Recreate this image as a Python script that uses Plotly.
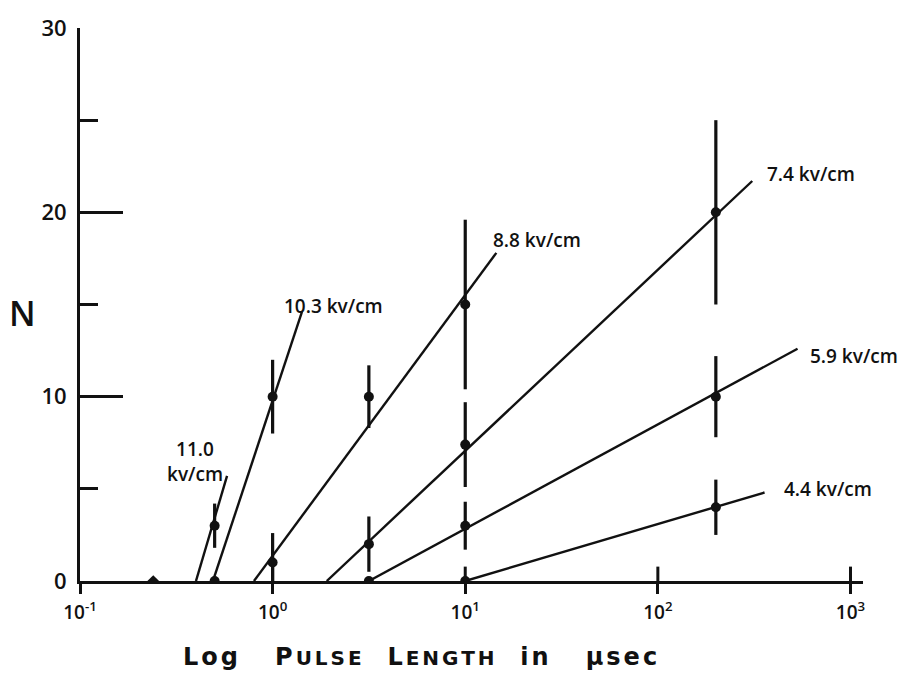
import math
import plotly.graph_objects as go

# Breakdown counts N versus pulse length (microseconds), one set per field strength
x_110 = [0.5]
n_110 = [3]
e_110 = [1.2]

x_103 = [0.5, 1.0]
n_103 = [0, 10]
e_103 = [0, 2.0]

x_88 = [1.0, 3.16, 10]
n_88 = [1, 10, 15]
e_88 = [1.6, 1.7, 4.6]

x_74 = [3.16, 10, 200]
n_74 = [2, 7.4, 20]
e_74 = [1.5, 2.3, 5.0]

x_59 = [3.16, 10, 200]
n_59 = [0, 3, 10]
e_59 = [0, 1.3, 2.2]

x_44 = [10, 200]
n_44 = [0, 4]
e_44 = [0, 1.5]

# single point with no breakdown at the shortest pulse
x_none = [0.24]
n_none = [0]

# hand-fitted straight lines through each set (end points)
fit_110_x = [0.40, 0.58]
fit_110_y = [0, 5.7]
fit_103_x = [0.49, 1.42]
fit_103_y = [0, 14.6]
fit_88_x = [0.80, 14.5]
fit_88_y = [0, 17.8]
fit_74_x = [1.91, 309]
fit_74_y = [0, 21.7]
fit_59_x = [3.16, 531]
fit_59_y = [0, 12.6]
fit_44_x = [10, 358]
fit_44_y = [0, 4.8]

field_labels = ["11.0<br>kv/cm", "10.3 kv/cm", "8.8 kv/cm", "7.4 kv/cm", "5.9 kv/cm", "4.4 kv/cm"]

x_tickvals = [0.1, 1, 10, 100, 1000]
x_ticktext = ["10<sup>-1</sup>", "10<sup>0</sup>", "10<sup>1</sup>", "10<sup>2</sup>", "10<sup>3</sup>"]
y_tickvals = [0, 10, 20, 30]
y_minorvals = [5, 15, 25]

series = [
    (x_110, n_110, e_110, fit_110_x, fit_110_y),
    (x_103, n_103, e_103, fit_103_x, fit_103_y),
    (x_88, n_88, e_88, fit_88_x, fit_88_y),
    (x_74, n_74, e_74, fit_74_x, fit_74_y),
    (x_59, n_59, e_59, fit_59_x, fit_59_y),
    (x_44, n_44, e_44, fit_44_x, fit_44_y),
]

# label anchor (log10 x, N) and alignment for each field-strength line
label_pos = [
    (-0.403, 6.5, "center"),
    (0.048, 14.9, "left"),
    (1.132, 18.5, "left"),
    (2.554, 22.1, "left"),
    (2.777, 12.2, "left"),
    (2.642, 5.0, "left"),
]

INK = "#111111"
HAND = "Open Sans"

fig = go.Figure()

for xs, ns, es, fx, fy in series:
    fig.add_trace(go.Scatter(
        x=fx, y=fy, mode="lines",
        line=dict(color=INK, width=2.4),
        hoverinfo="skip", showlegend=False,
    ))
    fig.add_trace(go.Scatter(
        x=xs, y=ns, mode="markers",
        marker=dict(color=INK, size=10),
        error_y=dict(type="data", array=es, color=INK, thickness=3.2, width=0),
        showlegend=False,
    ))

fig.add_trace(go.Scatter(
    x=x_none, y=n_none, mode="markers",
    marker=dict(color=INK, size=9, symbol="diamond"),
    showlegend=False,
))

annotations = []
for text, (lx, ly, anchor) in zip(field_labels, label_pos):
    annotations.append(dict(
        x=lx, y=ly, xref="x", yref="y", text=text, showarrow=False,
        xanchor=anchor, yanchor="middle",
        font=dict(family=HAND, size=19, color=INK, weight=600),
    ))

sp = "\u00a0"
small = "<span style='font-size:20px'>{}</span>"
axis_title = ("Log" + sp * 3 + "P" + small.format("ULSE") + sp * 2 + "L" + small.format("ENGTH")
              + sp * 2 + "in" + sp * 3 + "μsec")
annotations.append(dict(
    x=0.436, y=-0.138, xref="paper", yref="paper",
    text="<span style='letter-spacing:3px'>" + axis_title + "</span>",
    showarrow=False, xanchor="center", yanchor="middle",
    font=dict(family="DejaVu Sans", size=24, color=INK, weight=600),
))
annotations.append(dict(
    x=-0.074, y=0.485, xref="paper", yref="paper", text="N",
    showarrow=False, xanchor="center", yanchor="middle",
    font=dict(family=HAND, size=34, color=INK, weight=600),
))

# inner half of the x-axis ticks (they cross the axis line)
shapes = []
for tv in x_tickvals[1:]:
    shapes.append(dict(
        type="line", xref="x", yref="paper",
        x0=tv, x1=tv, y0=0, y1=0.026,
        line=dict(color=INK, width=3),
    ))

fig.update_layout(
    width=915, height=687,
    margin=dict(l=80, r=52, t=21, b=106),
    paper_bgcolor="white", plot_bgcolor="white",
    showlegend=False,
    annotations=annotations,
    shapes=shapes,
    xaxis=dict(
        type="log", range=[-1, 3.065],
        showline=True, linewidth=3, linecolor=INK,
        showgrid=False, zeroline=False,
        ticks="outside", ticklen=10, tickwidth=3, tickcolor=INK,
        tickvals=x_tickvals, ticktext=x_ticktext,
        ticklabelstandoff=2,
        tickfont=dict(family=HAND, size=19, color=INK, weight=600),
    ),
    yaxis=dict(
        range=[0, 30],
        showline=True, linewidth=3, linecolor=INK,
        showgrid=False, zeroline=False,
        ticks="inside", ticklen=43, tickwidth=3, tickcolor=INK,
        tickvals=y_tickvals, ticktext=[str(v) for v in y_tickvals],
        ticklabelstandoff=6,
        tickfont=dict(family=HAND, size=22, color=INK, weight=600),
        minor=dict(ticks="inside", ticklen=18, tickwidth=3, tickcolor=INK,
                   tickvals=y_minorvals, showgrid=False),
    ),
)

fig.write_html("out.html")
